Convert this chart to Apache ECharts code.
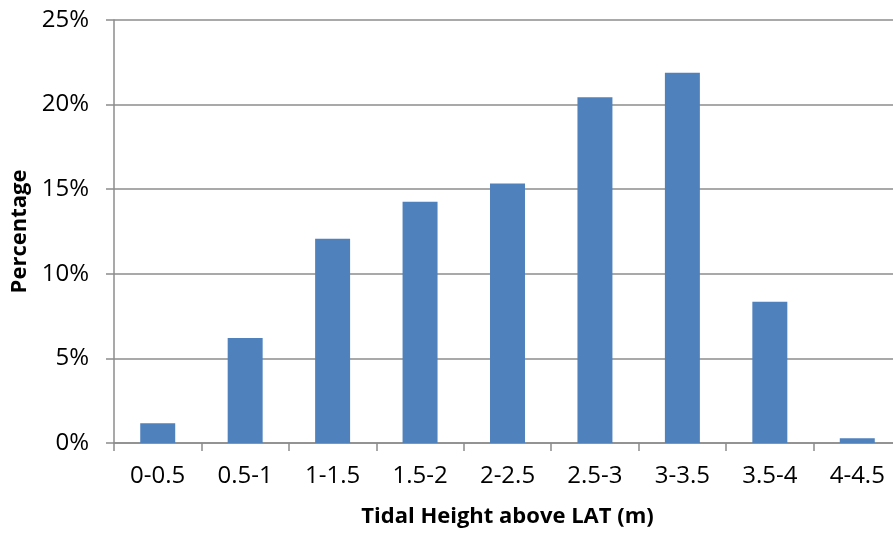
<!DOCTYPE html>
<html>
<head>
<meta charset="utf-8">
<script src="https://cdn.jsdelivr.net/npm/echarts@6/dist/echarts.min.js"></script>
<style>
html,body{margin:0;padding:0;background:#fff;}
#chart{width:893px;height:534px;}
</style>
</head>
<body>
<div id="chart"></div>
<script>
const categories = ['0-0.5','0.5-1','1-1.5','1.5-2','2-2.5','2.5-3','3-3.5','3.5-4','4-4.5'];
const percentages = [1.17, 6.2, 12.07, 14.26, 15.33, 20.44, 21.88, 8.35, 0.28];
const yTicks = { min: 0, max: 25, interval: 5 };
const xTitle = 'Tidal Height above LAT (m)';
const yTitle = 'Percentage';

const FONT = '"Open Sans", "Liberation Sans", sans-serif';
const AXIS_GRAY = '#8c8c8c';

const chart = echarts.init(document.getElementById('chart'), null, {renderer: 'canvas'});
chart.setOption({
  animation: false,
  backgroundColor: '#ffffff',
  grid: { left: 114, top: 20, bottom: 91, width: 787, containLabel: false, outerBoundsMode: 'none' },
  xAxis: {
    type: 'category',
    data: categories,
    name: xTitle,
    nameLocation: 'middle',
    nameGap: 63,
    nameTextStyle: { fontFamily: FONT, fontSize: 22, fontWeight: 'bold', color: '#000' },
    axisLine: { show: true, lineStyle: { color: AXIS_GRAY, width: 1.5 } },
    axisTick: { show: true, alignWithLabel: false, length: 8, inside: false, lineStyle: { color: AXIS_GRAY, width: 1.5 } },
    axisLabel: { fontFamily: FONT, fontSize: 24, color: '#000', margin: 21, interval: 0 },
    splitLine: { show: false }
  },
  yAxis: {
    type: 'value',
    min: yTicks.min,
    max: yTicks.max,
    interval: yTicks.interval,
    name: yTitle,
    nameLocation: 'middle',
    nameGap: 83,
    nameRotate: 90,
    nameTextStyle: { fontFamily: FONT, fontSize: 22, fontWeight: 'bold', color: '#000' },
    axisLine: { show: true, lineStyle: { color: AXIS_GRAY, width: 1.5 } },
    axisTick: { show: true, length: 8, lineStyle: { color: AXIS_GRAY, width: 1.5 } },
    axisLabel: { fontFamily: FONT, fontSize: 24, color: '#000', margin: 25, formatter: '{value}%' },
    splitLine: { show: true, lineStyle: { color: AXIS_GRAY, width: 1.5 } }
  },
  series: [{
    type: 'bar',
    data: percentages,
    barWidth: '40%',
    itemStyle: { color: '#4f81bd' }
  }]
});
</script>
</body>
</html>
